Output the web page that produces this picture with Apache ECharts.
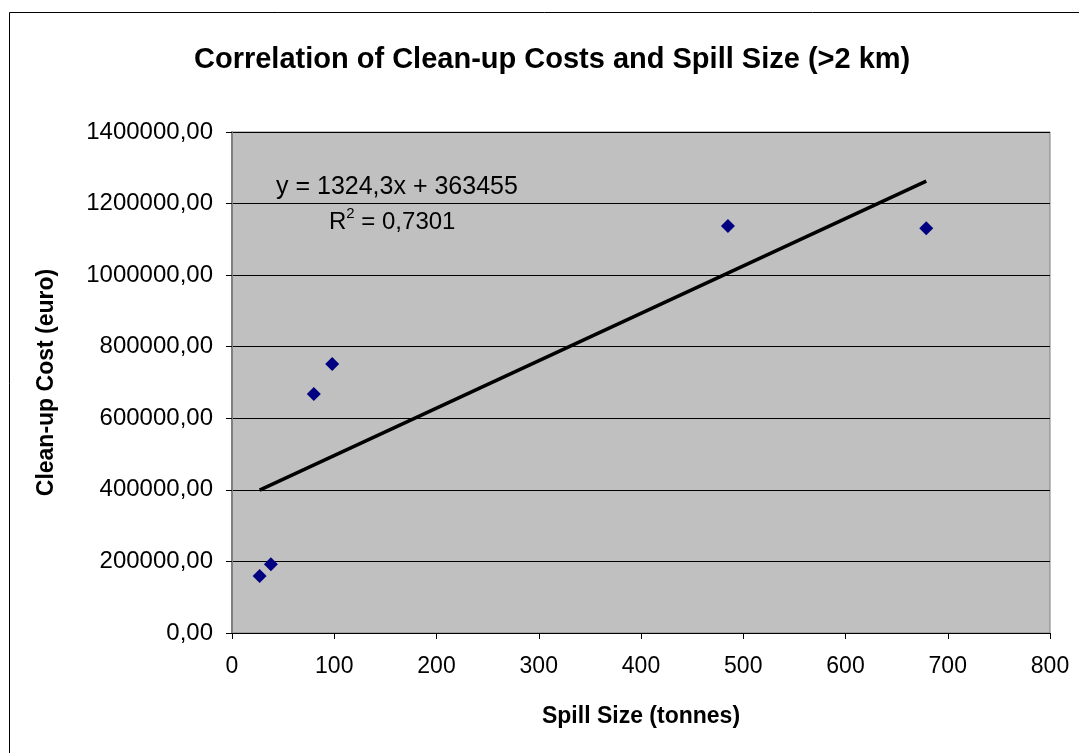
<!DOCTYPE html>
<html>
<head>
<meta charset="utf-8">
<script src="https://cdn.jsdelivr.net/npm/echarts@6/dist/echarts.min.js"></script>
<style>
  html, body { margin: 0; padding: 0; background: #fff; }
  #chart { width: 1079px; height: 753px; }
</style>
</head>
<body>
<div id="chart"></div>
<script>
// Spill size (tonnes) against clean-up cost (euro), spills further than 2 km
const spillSize = [27, 38, 80, 98, 485, 679];
const cleanupCost = [159000, 192000, 668000, 752000, 1137000, 1131000];

// Linear trend line coefficients
const trendSlope = 1324.3;
const trendIntercept = 363455;
const rSquared = '0,7301';

const xTicks = [0, 100, 200, 300, 400, 500, 600, 700, 800];
const yTicks = [0, 200000, 400000, 600000, 800000, 1000000, 1200000, 1400000];

const points = spillSize.map((x, i) => [x, cleanupCost[i]]);
const xMin = Math.min(...spillSize);
const xMax = Math.max(...spillSize);
const trend = [xMin, xMax].map(x => [x, trendSlope * x + trendIntercept]);

const chart = echarts.init(document.getElementById('chart'), null, { renderer: 'canvas' });
const font = 'Liberation Sans, Arial, sans-serif';

chart.setOption({
  animation: false,
  backgroundColor: '#ffffff',
  title: {
    text: 'Correlation of Clean-up Costs and Spill Size (>2 km)',
    left: 189,
    top: 40,
    textStyle: { fontFamily: font, fontSize: 29, fontWeight: 'bold', color: '#000' }
  },
  grid: {
    left: 232, right: 29, top: 132, bottom: 120,
    show: true,
    backgroundColor: '#c0c0c0',
    borderColor: '#808080',
    borderWidth: 1
  },
  xAxis: {
    type: 'value',
    min: xTicks[0],
    max: xTicks[xTicks.length - 1],
    interval: 100,
    name: 'Spill Size (tonnes)',
    nameLocation: 'middle',
    nameGap: 72,
    nameTextStyle: { fontFamily: font, fontSize: 23, fontWeight: 'bold', color: '#000' },
    axisLine: { show: true, onZero: false, lineStyle: { color: '#000', width: 1 } },
    axisTick: { show: true, inside: false, length: 6, lineStyle: { color: '#000' } },
    axisLabel: { fontFamily: font, fontSize: 23, color: '#000', margin: 22 },
    splitLine: { show: false }
  },
  yAxis: {
    type: 'value',
    min: yTicks[0],
    max: yTicks[yTicks.length - 1],
    interval: 200000,
    name: 'Clean-up Cost (euro)',
    nameLocation: 'middle',
    nameGap: 174,
    nameRotate: 90,
    nameTextStyle: { fontFamily: font, fontSize: 23, fontWeight: 'bold', color: '#000' },
    axisLine: { show: true, lineStyle: { color: '#808080', width: 2 } },
    axisTick: { show: true, inside: false, length: 6, lineStyle: { color: '#000' } },
    axisLabel: {
      fontFamily: font, fontSize: 24, color: '#000', margin: 19,
      formatter: v => v.toFixed(2).replace('.', ',')
    },
    splitLine: { show: true, lineStyle: { color: '#000', width: 1 } }
  },
  series: [
    {
      type: 'line',
      data: trend,
      symbol: 'none',
      lineStyle: { color: '#000', width: 3.5 },
      silent: true,
      z: 2
    },
    {
      type: 'scatter',
      data: points,
      symbol: 'diamond',
      symbolSize: [14, 14],
      itemStyle: { color: '#000080', opacity: 1 },
      z: 3
    }
  ],
  graphic: [
    {
      type: 'rect',
      shape: { x: 9.5, y: 12.5, width: 1200, height: 900 },
      style: { fill: 'none', stroke: '#000', lineWidth: 1 },
      silent: true
    },
    {
      type: 'text',
      left: 276, top: 175,
      style: {
        text: 'y = 1324,3x + 363455',
        font: '25px ' + font,
        fill: '#000'
      },
      z: 10
    },
    {
      type: 'text',
      left: 329, top: 206,
      style: {
        text: '{b|R}{s|2}{b| = ' + rSquared + '}',
        font: '24px ' + font,
        fill: '#000',
        rich: {
          b: { fontFamily: font, fontSize: 24, color: '#000', verticalAlign: 'bottom', lineHeight: 28 },
          s: { fontFamily: font, fontSize: 15, color: '#000', verticalAlign: 'top', lineHeight: 28, padding: [0, 0, 10, 0] }
        }
      },
      z: 10
    }
  ]
});
</script>
</body>
</html>
